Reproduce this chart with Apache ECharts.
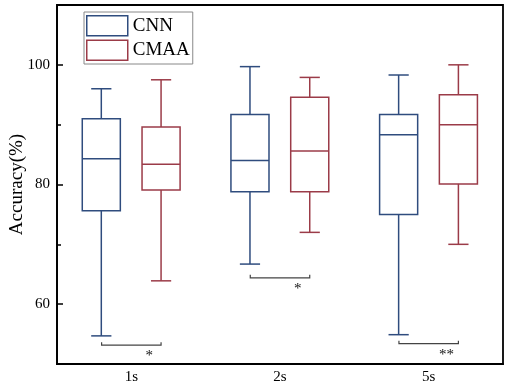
<!DOCTYPE html>
<html>
<head>
<meta charset="utf-8">
<script src="https://cdn.jsdelivr.net/npm/echarts@6/dist/echarts.min.js"></script>
<style>
  html, body { margin: 0; padding: 0; background: #fff; }
  #chart { width: 510px; height: 386px; }
</style>
</head>
<body>
<div id="chart"></div>
<script>
// values: [low, q1, median, q3, high]
const categories = ['1s', '2s', '5s']
const cnnBoxes = [
  [54.7, 75.6, 84.3, 91.0, 96.0],
  [66.7, 78.8, 84.0, 91.7, 99.7],
  [54.9, 75.0, 88.3, 91.7, 98.3],
]
const cmaaBoxes = [
  [63.9, 79.1, 83.4, 89.6, 97.5],
  [72.0, 78.8, 85.6, 94.6, 97.9],
  [70.0, 80.1, 90.0, 95.0, 100.0],
]
const sigLevels = [53.15, 64.4, 53.4]
const sigLabels = ['*', '*', '**']
const yTicks = [60, 80, 100]
const yMinorTicks = [50, 70, 90, 110]

const blue = '#2F4C7E'
const red = '#9B3B48'
const serif = 'Liberation Serif'

const boxRender = (offset, color) => (params, api) => {
  const band = api.size([1, 0])[0]
  const x = api.coord([api.value(0), 0])[0] + offset * band
  const half = band * 0.128
  const cap = band * 0.068
  const y = (i) => api.coord([api.value(0), api.value(i)])[1]
  const low = y(1), q1 = y(2), med = y(3), q3 = y(4), high = y(5)
  const style = { stroke: color, lineWidth: 1.5, fill: 'none' }
  return {
    type: 'group',
    children: [
      { type: 'rect', shape: { x: x - half, y: q3, width: half * 2, height: q1 - q3 }, style },
      { type: 'line', shape: { x1: x - half, y1: med, x2: x + half, y2: med }, style },
      { type: 'line', shape: { x1: x, y1: q3, x2: x, y2: high }, style },
      { type: 'line', shape: { x1: x, y1: q1, x2: x, y2: low }, style },
      { type: 'line', shape: { x1: x - cap, y1: high, x2: x + cap, y2: high }, style },
      { type: 'line', shape: { x1: x - cap, y1: low, x2: x + cap, y2: low }, style },
    ],
  }
}

const bracketRender = (params, api) => {
  const band = api.size([1, 0])[0]
  const p = api.coord([api.value(0), api.value(1)])
  const x0 = p[0] - 0.2 * band
  const x1 = p[0] + 0.2 * band
  const cy = p[1]
  return {
    type: 'group',
    children: [
      {
        type: 'polyline',
        shape: { points: [[x0, cy - 3], [x0, cy], [x1, cy], [x1, cy - 3]] },
        style: { stroke: '#444', lineWidth: 1.2, fill: 'none' },
      },
      {
        type: 'text',
        style: {
          x: p[0] + 0.12 * band,
          y: cy + 11,
          text: sigLabels[params.dataIndex],
          fill: '#111',
          font: '15px ' + serif,
          align: 'center',
          verticalAlign: 'middle',
        },
      },
    ],
  }
}

const chart = echarts.init(document.getElementById('chart'))
chart.setOption({
  animation: false,
  grid: {
    left: 57, right: 7, top: 5, bottom: 22,
    containLabel: false,
    outerBoundsMode: 'none',
    show: true, borderColor: '#000', borderWidth: 1.8,
  },
  legend: {
    orient: 'vertical',
    left: 84, top: 12,
    padding: [3, 3, 3, 2],
    itemGap: 3,
    itemWidth: 41,
    itemHeight: 20,
    borderColor: '#888',
    borderWidth: 1,
    icon: 'rect',
    textStyle: { fontFamily: serif, fontSize: 19, color: '#000' },
    data: [
      { name: 'CNN', itemStyle: { color: '#fff', borderColor: blue, borderWidth: 1.5 } },
      { name: 'CMAA', itemStyle: { color: '#fff', borderColor: red, borderWidth: 1.5 } },
    ],
  },
  xAxis: {
    type: 'category',
    data: categories,
    axisLine: { lineStyle: { color: '#000', width: 1.8 } },
    axisTick: { alignWithLabel: true, inside: true, length: 6, lineStyle: { color: '#000', width: 1.5 } },
    axisLabel: { fontFamily: serif, fontSize: 15, color: '#000', margin: 6 },
    splitLine: { show: false },
  },
  yAxis: [
    {
      type: 'value',
      min: 50, max: 110, interval: 10,
      name: 'Accuracy(%)',
      nameLocation: 'middle',
      nameGap: 30,
      nameMoveOverlap: false,
      nameTextStyle: { fontFamily: serif, fontSize: 19, color: '#000' },
      axisLine: { show: true, lineStyle: { color: '#000', width: 1.8 } },
      axisTick: { show: true, inside: true, length: 6, customValues: yTicks, lineStyle: { color: '#000', width: 1.5 } },
      axisLabel: { customValues: yTicks, fontFamily: serif, fontSize: 15, color: '#000', margin: 7 },
      splitLine: { show: false },
    },
    {
      type: 'value',
      position: 'left',
      min: 50, max: 110, interval: 10,
      axisLine: { show: false },
      axisTick: { show: true, inside: true, length: 4, customValues: yMinorTicks, lineStyle: { color: '#000', width: 1.5 } },
      axisLabel: { show: false },
      splitLine: { show: false },
    },
  ],
  series: [
    {
      name: 'CNN',
      type: 'custom',
      renderItem: boxRender(-0.202, blue),
      encode: { x: 0, y: [1, 2, 3, 4, 5] },
      data: cnnBoxes.map((b, i) => [i, ...b]),
      itemStyle: { color: blue },
    },
    {
      name: 'CMAA',
      type: 'custom',
      renderItem: boxRender(0.2, red),
      encode: { x: 0, y: [1, 2, 3, 4, 5] },
      data: cmaaBoxes.map((b, i) => [i, ...b]),
      itemStyle: { color: red },
    },
    {
      name: 'sig',
      type: 'custom',
      renderItem: bracketRender,
      encode: { x: 0, y: 1 },
      data: sigLevels.map((v, i) => [i, v]),
      silent: true,
    },
  ],
})
</script>
</body>
</html>
